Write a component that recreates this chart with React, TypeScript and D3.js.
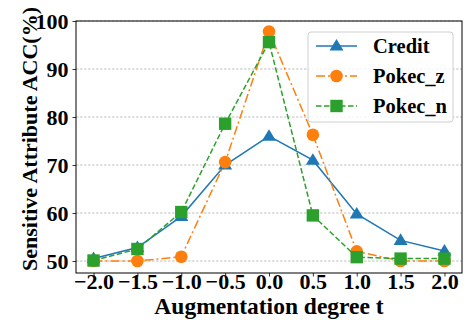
import { useEffect, useRef } from "react";
import * as d3 from "d3";

const degrees = [-2.0, -1.5, -1.0, -0.5, 0.0, 0.5, 1.0, 1.5, 2.0];
const credit = [50.5, 52.8, 59.3, 70.0, 76.0, 71.0, 59.8, 54.3, 52.1];
const pokecZ = [50.0, 50.0, 50.9, 70.6, 97.8, 76.3, 52.0, 50.0, 50.0];
const pokecN = [50.1, 52.5, 60.2, 78.6, 95.6, 59.5, 50.8, 50.5, 50.5];
const yTicks = [50, 60, 70, 80, 90, 100];

const series = [
  { name: "Credit", values: credit, color: "#1f77b4", dash: "", marker: "triangle" },
  { name: "Pokec_z", values: pokecZ, color: "#ff7f0e", dash: "9,3,2,3", marker: "circle" },
  { name: "Pokec_n", values: pokecN, color: "#2ca02c", dash: "5.5,2.5", marker: "square" },
];

export default function App() {
  const ref = useRef<SVGSVGElement>(null);

  useEffect(() => {
    const width = 469;
    const height = 320;
    const m = { left: 76, right: 462, top: 21, bottom: 273 };
    const svg = d3.select(ref.current);
    svg.selectAll("*").remove();
    svg.attr("width", width).attr("height", height);

    const font = "'Liberation Serif', 'Times New Roman', serif";

    const x = d3.scaleLinear().domain([-2.2, 2.2]).range([m.left, m.right]);
    const y = d3.scaleLinear().domain([47.5, 100]).range([m.bottom, m.top]);

    // horizontal grid only
    svg.append("g")
      .selectAll("line")
      .data(yTicks)
      .join("line")
      .attr("x1", m.left)
      .attr("x2", m.right)
      .attr("y1", d => y(d))
      .attr("y2", d => y(d))
      .attr("stroke", "#b0b0b0")
      .attr("stroke-width", 0.8)
      .attr("stroke-dasharray", "2.5,1.5");

    const xAxis = svg.append("g")
      .attr("transform", `translate(0,${m.bottom})`)
      .call(d3.axisBottom(x).tickValues(degrees).tickSize(3.5)
        .tickFormat(d => d3.format(".1f")(d as number).replace("-", "\u2212")));
    const yAxis = svg.append("g")
      .attr("transform", `translate(${m.left},0)`)
      .call(d3.axisLeft(y).tickValues(yTicks).tickSize(3.5).tickPadding(4));
    [xAxis, yAxis].forEach(g => {
      g.select(".domain").remove();
      g.selectAll("line").attr("stroke", "#000").attr("stroke-width", 0.8);
      g.selectAll("text")
        .attr("fill", "#000")
        .style("font-family", font)
        .style("font-weight", "bold")
        .style("font-size", "22px");
    });
    xAxis.selectAll("text").attr("y", 15.5).attr("dy", 0);
    yAxis.selectAll("text").attr("dy", "0.34em");

    svg.append("rect")
      .attr("x", m.left).attr("y", m.top)
      .attr("width", m.right - m.left).attr("height", m.bottom - m.top)
      .attr("fill", "none").attr("stroke", "#000").attr("stroke-width", 1);

    const line = d3.line<number>()
      .x((_, i) => x(degrees[i]))
      .y(d => y(d));

    const drawMarker = (g: any, type: string, color: string, cx: number, cy: number) => {
      if (type === "triangle") {
        const s = 7;
        g.append("path")
          .attr("d", `M${cx},${cy - s} L${cx + s},${cy + s * 0.65} L${cx - s},${cy + s * 0.65} Z`)
          .attr("fill", color);
      } else if (type === "circle") {
        g.append("circle").attr("cx", cx).attr("cy", cy).attr("r", 6.3).attr("fill", color);
      } else {
        g.append("rect").attr("x", cx - 6.2).attr("y", cy - 6.2).attr("width", 12.4).attr("height", 12.4).attr("fill", color);
      }
    };

    series.forEach(s => {
      const g = svg.append("g");
      g.append("path")
        .attr("d", line(s.values))
        .attr("fill", "none")
        .attr("stroke", s.color)
        .attr("stroke-width", 1.5)
        .attr("stroke-dasharray", s.dash || null);
      s.values.forEach((v, i) => drawMarker(g, s.marker, s.color, x(degrees[i]), y(v)));
    });

    // legend
    const lg = svg.append("g");
    lg.append("rect")
      .attr("x", 308).attr("y", 32).attr("width", 145).attr("height", 90)
      .attr("rx", 3)
      .attr("fill", "rgba(255,255,255,0.8)")
      .attr("stroke", "#d0d0d0").attr("stroke-width", 1);
    series.forEach((s, i) => {
      const ly = 46 + i * 30;
      lg.append("line")
        .attr("x1", 316).attr("x2", 357).attr("y1", ly).attr("y2", ly)
        .attr("stroke", s.color).attr("stroke-width", 1.5)
        .attr("stroke-dasharray", s.dash || null);
      drawMarker(lg, s.marker, s.color, 336.5, ly);
      lg.append("text")
        .attr("x", 373).attr("y", ly)
        .attr("dy", "0.35em")
        .style("font-family", font)
        .style("font-weight", "bold")
        .style("font-size", "20.5px")
        .text(s.name);
    });

    svg.append("text")
      .attr("x", 269)
      .attr("y", 314)
      .attr("text-anchor", "middle")
      .style("font-family", font)
      .style("font-weight", "bold")
      .style("font-size", "23.5px")
      .text("Augmentation degree t");

    svg.append("text")
      .attr("transform", `translate(37,139) rotate(-90)`)
      .attr("text-anchor", "middle")
      .style("font-family", font)
      .style("font-weight", "bold")
      .style("font-size", "22px")
      .text("Sensitive Attribute ACC(%)");
  }, []);

  return (
    <div style={{ position: "absolute", left: 0, top: 0, background: "#fff" }}>
      <svg ref={ref} />
    </div>
  );
}
